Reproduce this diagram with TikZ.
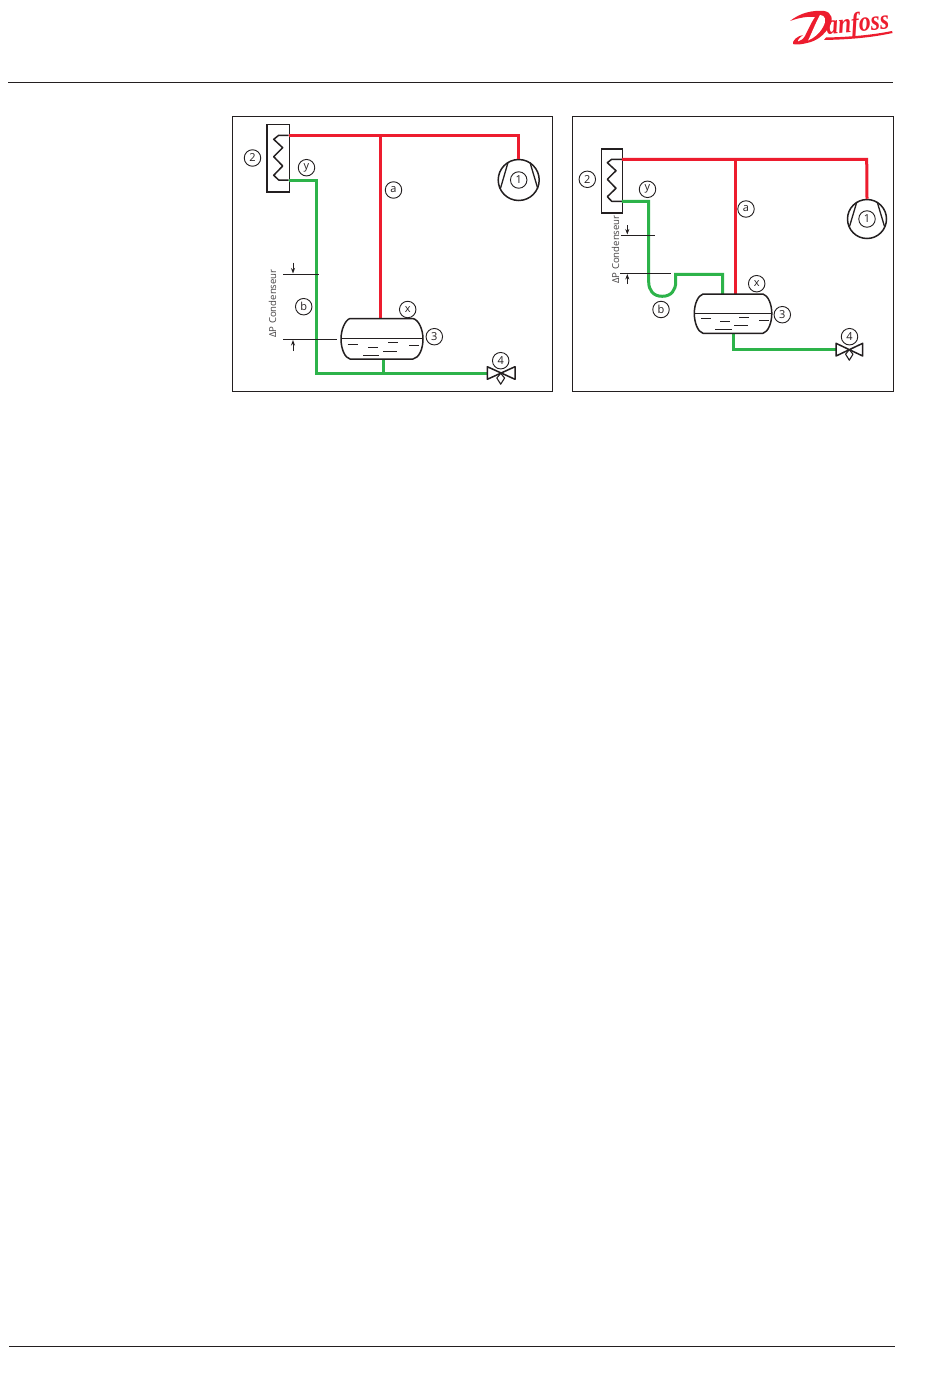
\documentclass[tikz,border=0pt]{standalone}
\usepackage{fontspec}
\setmainfont{Open Sans}
\newfontfamily\logofont{Liberation Serif}
\usetikzlibrary{arrows.meta,calc}
\definecolor{pipered}{HTML}{ED1C2E}
\definecolor{pipegreen}{HTML}{2DB34A}
\definecolor{ink}{HTML}{231F20}
\tikzset{
  frame/.style={draw=ink,line width=1.2pt},
  rule/.style={draw=ink,line width=1.2pt},
  thin/.style={draw=ink,line width=1.1pt},
  symbol/.style={draw=ink,line width=1.5pt,line join=round},
  redpipe/.style={draw=pipered,line width=3pt},
  greenpipe/.style={draw=pipegreen,line width=3pt},
  tag/.style={circle,draw=ink,line width=.9pt,minimum size=16.5pt,inner sep=0pt,font=\fontsize{11}{12}\selectfont,text=ink},
  dp/.style={rotate=90,font=\fontsize{9.6}{11}\selectfont,text=ink!85,inner sep=0pt},
  dparrow/.style={draw=ink,line width=.9pt,-{Stealth[length=5.5pt,width=4pt]}},
  box/.style={draw=ink,line width=1.5pt,inner sep=0pt},
  comp/.style={circle,draw=ink,line width=1.5pt,inner sep=0pt},
  logo/.style={fill=pipered,draw=none}
}
\begin{document}
\begin{tikzpicture}[x=1pt,y=-1pt]
\useasboundingbox (0,0) rectangle (950,1378);
\fill[white] (0,0) rectangle (950,1378);
% page rules
\coordinate (hl) at (8,82.5); \coordinate (hr) at (893,82.5);
\coordinate (fl) at (9,1346.5); \coordinate (fr) at (895,1346.5);
\draw[rule] (hl)--(hr); \draw[rule] (fl)--(fr);
% logo
\fill[logo] (790,21) .. controls (800,13) and (812,10) .. (824,11) .. controls (832,12) and (834,20) .. (829,27) .. controls (824,35) and (817,41) .. (807,43) .. controls (801,44.5) and (796,45) .. (793,44) .. controls (792,41) and (797,36) .. (803,35) .. controls (799,38) and (797,41) .. (798,41.5) .. controls (801,41) and (803,39) .. (805,36) .. controls (808,30) and (811,23) .. (815,17) .. controls (808,16) and (798,18) .. (790,21) -- cycle;
\fill[white] (820,15) .. controls (825,15) and (827,20) .. (823,27) .. controls (819,34) and (814,38) .. (808,40.5) .. controls (811,35) and (815,24) .. (820,15) -- cycle;
\fill[logo] (826,37.5) .. controls (850,37) and (872,35) .. (892,31) -- (892.5,33) .. controls (872,37.5) and (850,39.5) .. (824,40) -- cycle;
\node[inner sep=0pt,anchor=base west,text=pipered,rotate=5,xscale=.84,font=\logofont\bfseries\itshape\fontsize{28}{29}\selectfont] (logotext) at (827,34.5) {anfoss};
% ---------- left panel
\node[frame,minimum width=320pt,minimum height=274.5pt,inner sep=0pt,anchor=north west] (panelL) at (231.7,116.2) {};
\node[box,minimum width=22.5pt,minimum height=67pt,anchor=north west] (condL) at (266.2,124) {};
\coordinate (condLr) at (288.7,135.3);
\coordinate (condLg) at (288.7,180);
\draw[symbol] (condLr) -- (278.7,135.3) -- (273.7,139.3) -- (282.7,147.7) -- (273.7,156.7) -- (282.7,166) -- (273.7,175.3) -- (278.7,180) -- (condLg);
\node[comp,minimum size=41pt] (compL) at (518.7,180) {};
\coordinate (tankLtopA) at (380.7,318.5);
\coordinate (tankLbot) at (383.7,359);
\coordinate (jL) at (380.7,135.3);
\coordinate (cornerL) at (518.7,135.3);
\coordinate (gL1) at (316,180);
\coordinate (gL2) at (316,373.3);
\coordinate (jL2) at (383.7,373.3);
\coordinate (valveL) at (487.5,373.3);
\draw[redpipe,line join=miter] (condLr) -- (cornerL) -- (compL.north);
\draw[redpipe] (jL) -- (tankLtopA);
\draw[greenpipe,line join=miter] (condLg) -- (gL1) -- (gL2) -- (valveL);
\draw[greenpipe] (tankLbot) -- (jL2);
% compressor strokes
\draw[symbol,line width=1.3pt] (508,162.5) -- (500.5,188.3);
\draw[symbol,line width=1.3pt] (530,162.5) -- (537.7,188.3);
% tank
\draw[symbol,fill=white] (350,318.5) -- (413,318.5) .. controls (419,320) and (423,330) .. (423,339) .. controls (423,349) and (419,358) .. (413,359) -- (350,359) .. controls (345,358) and (341,349) .. (341,339) .. controls (341,330) and (345,320) .. (350,318.5) -- cycle;
\draw[thin] (341.5,338.5) -- (422.5,338.5);
\foreach \a/\b/\c in {347.7/357.7/344.5,368.3/378.3/347.5,388.3/398.3/342.5,383.3/397.3/351.5,409/419/345.5,363.3/379.3/355.5}
  \draw[thin] (\a,\c) -- (\b,\c);
% valve
\draw[symbol,fill=white] (487.3,366.7) -- (515,379.3) -- (515,366.7) -- (487.3,379.3) -- cycle;
\draw[symbol,line width=1.1pt,fill=white] (500.7,373.3) -- (496.8,378) -- (500.7,384.2) -- (504.6,378) -- cycle;
% dims
\coordinate (dL1a) at (283.3,274.5); \coordinate (dL1b) at (319,274.5);
\coordinate (dL2a) at (283.3,339.5); \coordinate (dL2b) at (337.3,339.5);
\draw[thin] (dL1a)--(dL1b); \draw[thin] (dL2a)--(dL2b);
\coordinate (aL1) at (293,262.5); \coordinate (aL1e) at (293,273.5);
\coordinate (aL2) at (293,351); \coordinate (aL2e) at (293,340);
\draw[dparrow] (aL1)--(aL1e); \draw[dparrow] (aL2)--(aL2e);
\node[dp] (dpL) at (272.5,303.5) {ΔP Condenseur};
% tags
\node[tag] (L1) at (518.7,180) {1};
\node[tag] (L2) at (252.5,158) {2};
\node[tag] (L3) at (434.3,336.7) {3};
\node[tag,fill=white] (L4) at (500.7,360.7) {4};
\node[tag] (Lx) at (407.7,309.5) {x};
\node[tag] (Ly) at (306.5,167.7) {y};
\node[tag] (La) at (393.5,190) {a};
\node[tag] (Lb) at (303.7,306.7) {b};
% ---------- right panel
\node[frame,minimum width=320.5pt,minimum height=274.5pt,inner sep=0pt,anchor=north west] (panelR) at (572.2,116.2) {};
\node[box,minimum width=21pt,minimum height=64pt,anchor=north west] (condR) at (600.8,148) {};
\coordinate (condRr) at (621.8,159.3);
\coordinate (condRg) at (621.8,201.3);
\draw[symbol] (condRr) -- (611.7,159.3) -- (607.3,162.7) -- (616,170.7) -- (607.3,179.3) -- (616,188.3) -- (607.3,196.7) -- (611.7,201.3) -- (condRg);
\node[comp,minimum size=39pt] (compR) at (867,219) {};
\coordinate (jR) at (735.5,159.3);
\coordinate (tankRa) at (735.5,294);
\coordinate (cornerR) at (866.7,159.3);
\coordinate (gR1) at (648.7,201.3);
\coordinate (gR2) at (648.7,282);
\coordinate (gR3) at (675.7,282);
\coordinate (gR4) at (675.7,274.3);
\coordinate (gR5) at (722.7,274.3);
\coordinate (tankRg) at (722.7,294);
\coordinate (tankRb) at (733.3,333.3);
\coordinate (gR6) at (733.3,349.3);
\coordinate (valveR) at (836,349.3);
\draw[redpipe,line join=miter] (condRr) -- (cornerR) -- (compR.north);
\draw[redpipe] (jR) -- (tankRa);
\draw[greenpipe,line join=miter] (condRg) -- (gR1) -- (gR2) .. controls (648.7,290) and (653,296.3) .. (662.2,296.3) .. controls (671.4,296.3) and (675.7,290) .. (gR3) -- (gR4) -- (gR5) -- (tankRg);
\draw[greenpipe,line join=miter] (tankRb) -- (gR6) -- (valveR);
\draw[symbol,line width=1.3pt] (856.8,202) -- (849.5,226.5);
\draw[symbol,line width=1.3pt] (877.2,202) -- (884.5,226.5);
\draw[symbol,fill=white] (703,294) -- (763,294) .. controls (768,295.5) and (771.8,304) .. (771.8,313.5) .. controls (771.8,323) and (768,332) .. (763,333.3) -- (703,333.3) .. controls (698,332) and (694.3,323) .. (694.3,313.5) .. controls (694.3,304) and (698,295.5) .. (703,294) -- cycle;
\draw[thin] (694.8,313.5) -- (771.3,313.5);
\foreach \a/\b/\c in {701/711/318.5,720/730/321.5,739.3/749.3/317.5,734/748.3/325.5,759/769/320.5,715/731.7/329.5}
  \draw[thin] (\a,\c) -- (\b,\c);
\draw[symbol,fill=white] (836,343.3) -- (862.7,356) -- (862.7,343.3) -- (836,356) -- cycle;
\draw[symbol,line width=1.1pt,fill=white] (849.3,349.6) -- (845.6,354.2) -- (849.3,360.2) -- (853,354.2) -- cycle;
\coordinate (dR1a) at (620.7,235.5); \coordinate (dR1b) at (655,235.5);
\coordinate (dR2a) at (620,273.5); \coordinate (dR2b) at (671,273.5);
\draw[thin] (dR1a)--(dR1b); \draw[thin] (dR2a)--(dR2b);
\coordinate (aR1) at (627.3,225); \coordinate (aR1e) at (627.3,234.5);
\coordinate (aR2) at (627.3,284); \coordinate (aR2e) at (627.3,274);
\draw[dparrow] (aR1)--(aR1e); \draw[dparrow] (aR2)--(aR2e);
\node[dp] (dpR) at (615.5,249.5) {ΔP Condenseur};
\node[tag] (R1) at (867,219) {1};
\node[tag] (R2) at (587.3,179.3) {2};
\node[tag] (R3) at (782.3,314.7) {3};
\node[tag,fill=white] (R4) at (849.5,336.7) {4};
\node[tag] (Rx) at (756.7,283.7) {x};
\node[tag] (Ry) at (647.5,189.3) {y};
\node[tag] (Ra) at (746,209) {a};
\node[tag] (Rb) at (661,309.5) {b};
\end{tikzpicture}
\end{document}
